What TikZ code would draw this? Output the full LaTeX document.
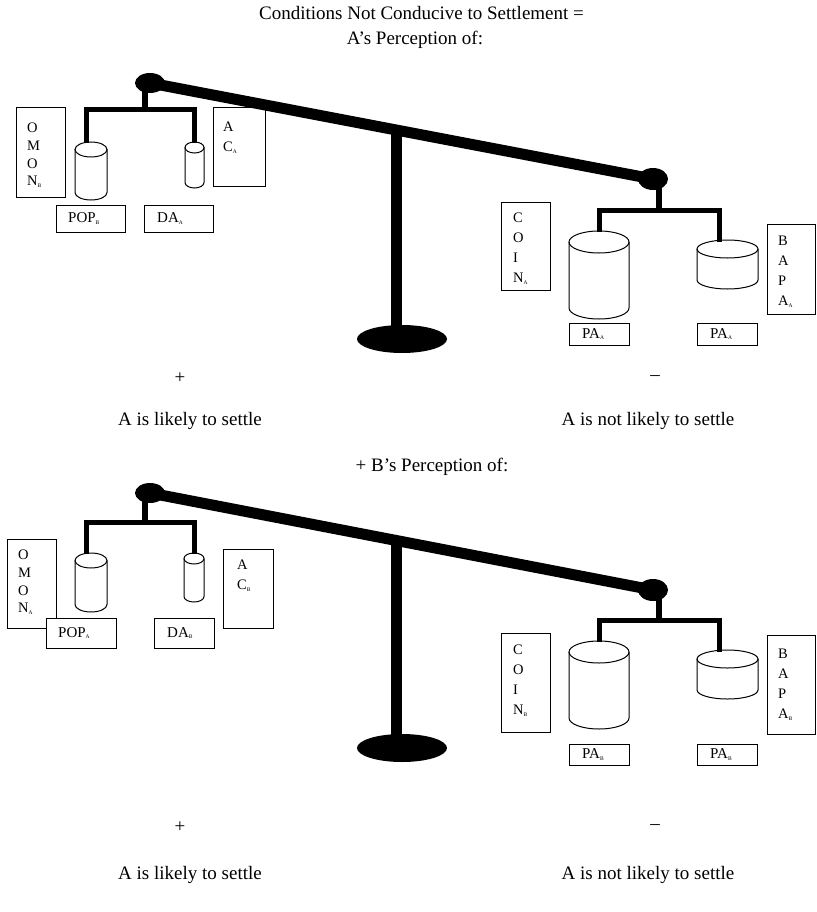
\documentclass[tikz,border=0pt]{standalone}
\usepackage{fontspec}
\setmainfont{Liberation Serif}
\usetikzlibrary{shapes.geometric,calc,fit}
\newcommand\sbs[1]{\raisebox{-0.12em}{\fontsize{5.5}{6}\selectfont #1}}
\newcommand\drawcyl[5]{%
  \draw[cylline] ({#1-#3},{#2+#5}) -- ({#1-#3},{#4-#5})
     arc[start angle=180,end angle=360,x radius=#3pt,y radius=#5pt] -- ({#1+#3},{#2+#5});
  \draw[cylline] (#1,{#2+#5}) ellipse[x radius=#3pt,y radius=#5pt];}
\tikzset{
  pivot/.style={ellipse, fill=black, draw=none, inner sep=0pt, minimum width=30pt, minimum height=20pt},
  basefoot/.style={ellipse, fill=black, draw=none, inner sep=0pt, minimum width=90pt, minimum height=28pt},
  beam/.style={line width=11pt},
  post/.style={line width=11pt},
  hang/.style={line width=5pt, line join=miter},
  stub/.style={line width=6pt},
  cylline/.style={line width=1pt},
  box/.style={draw, line width=1pt, inner sep=0pt, outer sep=0pt},
  bigtxt/.style={font=\fontsize{19}{23}\selectfont, inner sep=0pt},
  vtxtA/.style={font=\fontsize{14.5}{17.7}\selectfont, align=left, inner sep=0pt, anchor=north west},
  vtxtB/.style={font=\fontsize{14.5}{20}\selectfont, align=left, inner sep=0pt, anchor=north west},
  htxt/.style={font=\fontsize{15}{18}\selectfont, inner sep=0pt, anchor=west},
}
\begin{document}
\begin{tikzpicture}[x=1pt,y=-1pt]
\fill[white] (0,0) rectangle (816,912);
\useasboundingbox (0,0) rectangle (816,912);

% ================= TOP =================
\node[bigtxt, anchor=base] (t1) at (421.5,20) {Conditions Not Conducive to Settlement =};
\node[bigtxt, anchor=base] (t2) at (415,45) {A’s Perception of:};

\node[pivot] (pl1) at (150,83) {};
\node[pivot, minimum height=22pt] (pr1) at (653,179) {};
\node[basefoot] (base1) at (402,339) {};
\draw[beam] (pl1.center) -- (pr1.center);
\coordinate (m1) at ($(pl1.center)!0.491!(pr1.center)$);
\draw[post] (m1) -- (m1 |- base1.center);

% left hanger
\draw[stub] (145,85) -- (145,110);
\draw[hang] (86,143) |- (194,110) -- (194,143);
\drawcyl{91}{142}{16}{200}{7.5}
\drawcyl{194.5}{142}{9.5}{188}{5.5}

\node[box, fit={(16,108)(65,197)}] (omonB) {};
\node[vtxtA] (omonBt) at (27,123) {O\\M\\O\\N\sbs{B}};
\node[box, fit={(213,108)(265,187)}] (acA) {};
\node[vtxtB] (acAt) at (223,122) {A\\C\sbs{A}};
\node[box, fit={(56,205)(125,232)}] (popB) {};
\node[htxt] (popBt) at (68,218.5) {POP\sbs{B}};
\node[box, fit={(144,205)(213,232)}] (daA) {};
\node[htxt] (daAt) at (157,218.5) {DA\sbs{A}};

% right hanger
\draw[stub] (659,179) -- (659,210);
\draw[hang] (599.5,232) |- (719.5,210) -- (719.5,242);
\drawcyl{599}{231}{30}{319}{11}
\drawcyl{727.5}{240}{30.5}{289}{9}

\node[box, fit={(501,202)(550,290)}] (coinA) {};
\node[vtxtB] (coinAt) at (513,213) {C\\O\\I\\N\sbs{A}};
\node[box, fit={(767,224)(815.5,314)}] (bapaA) {};
\node[vtxtB] (bapaAt) at (778,236) {B\\A\\P\\A\sbs{A}};
\node[box, fit={(569,323)(629,345)}] (paA1) {};
\node[htxt] (paA1t) at (582,334) {PA\sbs{A}};
\node[box, fit={(697,323)(757,345)}] (paA2) {};
\node[htxt] (paA2t) at (710,334) {PA\sbs{A}};

\node[bigtxt] (plus1) at (180,378) {+};
\node[bigtxt] (minus1) at (655,378) {–};
\node[bigtxt] (lab1) at (190,421) {A is likely to settle};
\node[bigtxt] (lab2) at (648,421) {A is not likely to settle};

% ================= BOTTOM =================
\node[bigtxt, anchor=base] (t3) at (432,471) {+ B’s Perception of:};

\node[pivot] (pl2) at (150,493) {};
\node[pivot, minimum height=22pt] (pr2) at (653,590) {};
\node[basefoot] (base2) at (402,748) {};
\draw[beam] (pl2.center) -- (pr2.center);
\coordinate (m2) at ($(pl2.center)!0.491!(pr2.center)$);
\draw[post] (m2) -- (m2 |- base2.center);

\draw[stub] (145,495) -- (145,522);
\draw[hang] (86,554) |- (194,522) -- (194,554);
\drawcyl{91}{553}{16}{612}{7.5}
\drawcyl{194}{553}{10}{602}{5.5}

\node[box, fit={(7,539)(56,628)}] (omonA) {};
\node[vtxtA] (omonAt) at (18,550) {O\\M\\O\\N\sbs{A}};
\node[box, fit={(223,549)(273,628)}] (acB) {};
\node[vtxtB] (acBt) at (237,560) {A\\C\sbs{B}};
\node[box, fill=white, fit={(46,618)(116,648)}] (popA) {};
\node[htxt] (popAt) at (58,633) {POP\sbs{A}};
\node[box, fit={(154,618)(214,648)}] (daB) {};
\node[htxt] (daBt) at (167,633) {DA\sbs{B}};

\draw[stub] (659,590) -- (659,620);
\draw[hang] (599.5,642) |- (719.5,620) -- (719.5,652);
\drawcyl{599}{641}{30}{729}{11}
\drawcyl{727.5}{650}{30.5}{699}{9}

\node[box, fit={(501,633)(550,732)}] (coinB) {};
\node[vtxtB] (coinBt) at (513,645) {C\\O\\I\\N\sbs{B}};
\node[box, fit={(767,635)(815.5,734)}] (bapaB) {};
\node[vtxtB] (bapaBt) at (778,649) {B\\A\\P\\A\sbs{B}};
\node[box, fit={(569,744)(629,765)}] (paB1) {};
\node[htxt] (paB1t) at (582,754.5) {PA\sbs{B}};
\node[box, fit={(697,744)(757,765)}] (paB2) {};
\node[htxt] (paB2t) at (710,754.5) {PA\sbs{B}};

\node[bigtxt] (plus2) at (180,827) {+};
\node[bigtxt] (minus2) at (655,827) {–};
\node[bigtxt] (lab3) at (190,875) {A is likely to settle};
\node[bigtxt] (lab4) at (648,875) {A is not likely to settle};
\end{tikzpicture}
\end{document}
